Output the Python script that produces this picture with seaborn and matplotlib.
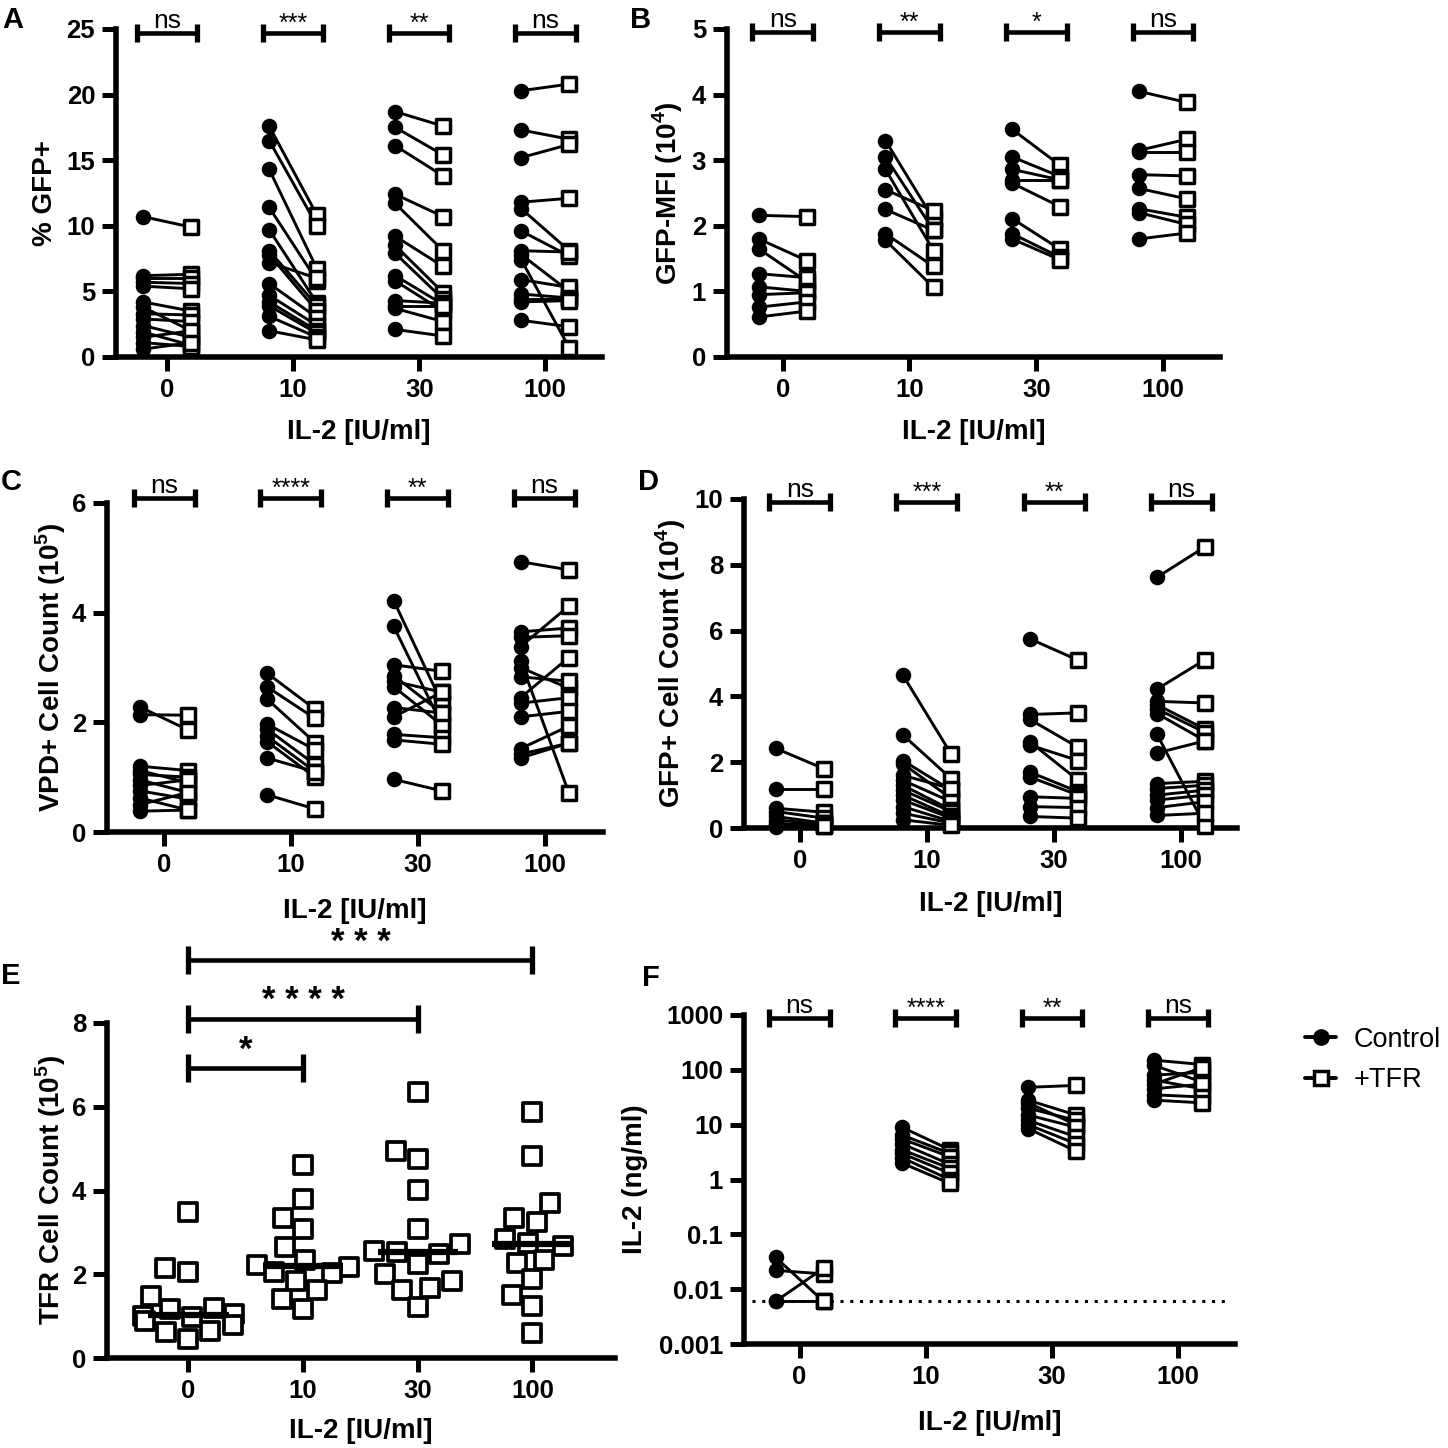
import numpy as np
import pandas as pd
import matplotlib
matplotlib.use("Agg")
import matplotlib.pyplot as plt
import matplotlib.transforms as mtransforms
from matplotlib.lines import Line2D
import seaborn as sns

# ---- data ----
doses = ["0", "10", "30", "100"]

# A: % GFP+ (paired control / +TFR per dose)
A_ctrl = [
    [10.7, 6.2, 6.0, 5.7, 5.4, 4.2, 3.8, 3.3, 2.9, 2.4, 1.9, 1.5, 1.1, 0.6],
    [17.6, 16.5, 14.3, 11.4, 9.7, 8.1, 7.8, 7.2, 5.6, 4.7, 4.2, 3.9, 3.1, 2.0],
    [18.7, 17.5, 16.1, 12.4, 11.7, 9.2, 8.5, 7.9, 6.2, 5.8, 4.3, 3.9, 3.7, 2.1],
    [20.3, 17.3, 15.2, 11.8, 11.3, 9.6, 8.1, 7.8, 7.4, 5.9, 4.8, 4.4, 4.2, 2.8],
]
A_tfr = [
    [9.9, 6.3, 6.0, 5.6, 5.2, 3.5, 2.0, 3.2, 2.7, 1.5, 0.9, 2.0, 0.8, 1.1],
    [10.8, 10.0, 6.7, 5.8, 4.1, 3.9, 3.5, 6.0, 3.0, 2.4, 2.0, 1.8, 1.5, 1.3],
    [17.6, 15.4, 13.8, 10.7, 8.1, 6.9, 4.9, 4.4, 4.0, 3.5, 4.1, 3.9, 2.7, 1.6],
    [20.8, 16.6, 16.2, 12.1, 8.1, 7.7, 8.0, 5.0, 0.7, 5.3, 4.5, 4.4, 4.3, 2.3],
]
A_sig = ["ns", "***", "**", "ns"]

# B: GFP-MFI (10^4)
B_ctrl = [
    [2.16, 1.80, 1.65, 1.27, 1.07, 0.95, 0.76, 0.61],
    [3.30, 3.05, 2.86, 2.55, 2.25, 1.88, 1.78],
    [3.47, 3.05, 2.86, 2.70, 2.65, 2.11, 1.88, 1.80],
    [4.05, 3.15, 3.13, 2.78, 2.57, 2.26, 2.20, 1.80],
]
B_tfr = [
    [2.14, 1.47, 1.15, 1.21, 1.00, 0.98, 0.84, 0.70],
    [2.10, 1.93, 1.62, 2.23, 1.93, 1.38, 1.06],
    [2.92, 2.75, 2.70, 2.70, 2.29, 1.64, 1.52, 1.48],
    [3.88, 3.32, 3.13, 2.76, 2.41, 2.13, 2.02, 1.89],
]
B_sig = ["ns", "**", "*", "ns"]

# C: VPD+ cell count (10^5)
C_ctrl = [
    [2.28, 2.14, 1.20, 1.12, 1.05, 0.95, 0.85, 0.75, 0.62, 0.50, 0.38],
    [2.90, 2.65, 2.43, 1.97, 1.88, 1.75, 1.65, 1.35, 0.68],
    [4.22, 3.75, 3.05, 2.85, 2.75, 2.65, 2.27, 2.10, 1.78, 1.68, 0.96],
    [4.93, 3.65, 3.55, 3.38, 3.12, 3.00, 2.83, 2.45, 2.35, 2.10, 1.52, 1.42, 1.35],
]
C_tfr = [
    [1.86, 2.13, 1.12, 0.90, 1.00, 0.72, 0.95, 0.60, 0.40, 0.72, 0.40],
    [2.24, 2.07, 1.63, 1.50, 1.23, 1.10, 1.00, 1.10, 0.42],
    [2.35, 1.95, 2.93, 2.17, 2.55, 1.95, 2.17, 2.55, 1.72, 1.60, 0.75],
    [4.78, 3.72, 3.58, 4.12, 0.72, 2.62, 2.75, 3.18, 2.45, 2.20, 1.93, 1.62, 1.62],
]
C_sig = ["ns", "****", "**", "ns"]

# D: GFP+ cell count (10^4)
D_ctrl = [
    [2.42, 1.20, 0.60, 0.50, 0.35, 0.25, 0.15, 0.08, 0.02],
    [4.65, 2.83, 2.05, 1.95, 1.60, 1.45, 1.30, 1.15, 1.00, 0.85, 0.65, 0.45, 0.25],
    [5.75, 3.45, 3.30, 2.62, 2.52, 1.70, 1.55, 0.95, 0.65, 0.35],
    [7.62, 4.22, 3.85, 3.75, 3.62, 3.48, 2.85, 2.28, 1.35, 1.20, 1.00, 0.85, 0.62, 0.38],
]
D_tfr = [
    [1.80, 1.20, 0.48, 0.30, 0.15, 0.10, 0.05, 0.15, 0.05],
    [2.25, 1.50, 1.15, 0.90, 1.20, 0.80, 0.55, 0.50, 0.35, 0.30, 0.20, 0.15, 0.08],
    [5.10, 3.50, 2.45, 1.45, 2.05, 1.10, 1.00, 0.90, 0.62, 0.30],
    [8.55, 5.12, 3.80, 3.00, 2.90, 2.65, 0.05, 2.65, 1.42, 1.30, 1.15, 1.00, 0.80, 0.45],
]
D_sig = ["ns", "***", "**", "ns"]

# E: TFR cell count (10^5), unpaired
E_0 = [3.48, 2.15, 2.05, 1.48, 1.20, 1.18, 1.05, 1.00, 0.98, 0.88, 0.78, 0.65, 0.62, 0.45]
E_10 = [4.62, 3.80, 3.35, 3.08, 2.65, 2.35, 2.22, 2.18, 2.05, 2.03, 1.85, 1.62, 1.42, 1.18]
E_30 = [6.35, 4.95, 4.75, 4.02, 3.07, 2.72, 2.55, 2.52, 2.48, 2.25, 2.00, 1.85, 1.68, 1.62, 1.22]
E_100 = [5.88, 4.82, 3.70, 3.35, 3.25, 2.85, 2.75, 2.68, 2.35, 2.28, 1.88, 1.50, 1.25, 0.60]
E_comparisons = [(0, 1, 6.92, "*"), (0, 2, 8.1, "* * * *"), (0, 3, 9.5, "* * *")]

# F: IL-2 (ng/ml), log scale
F_ctrl = [
    [0.038, 0.022, 0.006, 0.006],
    [9.0, 6.5, 5.5, 4.5, 3.5, 3.0, 2.5, 2.0],
    [48, 28, 25, 20, 15, 12, 10, 8.5],
    [150, 120, 80, 65, 55, 45, 35, 28],
]
F_tfr = [
    [0.006, 0.019, 0.024, 0.006],
    [3.5, 3.0, 2.6, 1.9, 1.6, 1.3, 1.0, 0.85],
    [52, 15, 10, 12, 9, 6, 4.5, 3.3],
    [125, 60, 90, 45, 110, 55, 32, 25],
]
F_sig = ["ns", "****", "**", "ns"]
F_detection_limit = 0.006

# ---- style ----
sns.set_theme(style="ticks")
plt.rcParams['font.family'] = ['Liberation Sans', 'DejaVu Sans']
plt.rcParams['font.weight'] = 'bold'
plt.rcParams['axes.labelweight'] = 'bold'
plt.rcParams['mathtext.fontset'] = 'custom'
plt.rcParams['mathtext.rm'] = 'Liberation Sans:bold'
plt.rcParams['mathtext.bf'] = 'Liberation Sans:bold'
plt.rcParams['axes.linewidth'] = 4.0
plt.rcParams['axes.edgecolor'] = 'black'
plt.rcParams['text.color'] = 'black'
plt.rcParams['axes.labelcolor'] = 'black'
plt.rcParams['xtick.color'] = 'black'
plt.rcParams['ytick.color'] = 'black'

W = 1448
fig = plt.figure(figsize=(14.48, 14.48), dpi=100)


def make_axes(left, right, bottom, top):
    return fig.add_axes([left / W, 1 - bottom / W, (right - left) / W, (bottom - top) / W])


def style_axes(ax, xlim, ylabel, ylab_x, xlab_y):
    ax.set_xlim(*xlim)
    ax.set_xticks(range(len(doses)))
    ax.set_xticklabels(doses)
    sns.despine(ax=ax)
    ax.tick_params(axis='both', direction='out', length=10, width=3.6,
                   labelsize=18.5, pad=5, colors='black')
    ax.tick_params(axis='y', which='minor', length=0)
    ax.set_xlabel("IL-2 [IU/ml]", fontsize=20)
    ax.set_ylabel(ylabel, fontsize=20)
    ax.yaxis.set_label_coords(ylab_x, 0.5)
    ax.xaxis.set_label_coords(0.5, xlab_y)
    ax.grid(False)


def bracket(ax, x1, x2, y, label, half=9, fs=19, text_dy=None, va='baseline', weight='normal'):
    trans = mtransforms.blended_transform_factory(ax.transData, ax.transAxes)
    yf = ax.transAxes.inverted().transform(ax.transData.transform((0, y)))[1]
    h = half / ax.bbox.height
    ax.plot([x1, x2], [yf, yf], transform=trans, color='black', lw=3.3,
            clip_on=False, solid_capstyle='butt')
    for xx in (x1, x2):
        ax.plot([xx, xx], [yf - h, yf + h], transform=trans, color='black',
                lw=3.8, clip_on=False, solid_capstyle='butt')
    ax.annotate(label, xy=((x1 + x2) / 2, yf), xycoords=trans,
                xytext=(0, text_dy), textcoords='offset points', ha='center',
                va=va, fontsize=fs, fontweight=weight, annotation_clip=False)


def paired_panel(ax, ctrl, tfr, off=0.19):
    rows = []
    pair = 0
    for i, (c_vals, t_vals) in enumerate(zip(ctrl, tfr)):
        for c, t in zip(c_vals, t_vals):
            rows.append((pair, i - off, c, 'Control'))
            rows.append((pair, i + off, t, '+TFR'))
            pair += 1
    df = pd.DataFrame(rows, columns=['pair', 'pos', 'value', 'group'])
    sns.lineplot(data=df, x='pos', y='value', units='pair', estimator=None,
                 color='black', lw=2.1, sort=False, ax=ax)
    sns.scatterplot(data=df[df['group'] == 'Control'], x='pos', y='value',
                    marker='o', s=125, color='black', edgecolor='black',
                    linewidth=0, zorder=3, clip_on=False, ax=ax)
    sns.scatterplot(data=df[df['group'] == '+TFR'], x='pos', y='value',
                    marker='s', s=100, color='white', edgecolor='black',
                    linewidth=2.5, zorder=4, clip_on=False, ax=ax)


def add_sig(ax, sig, sig_y, span=0.24):
    for i, s in enumerate(sig):
        if s == 'ns':
            bracket(ax, i - span, i + span, sig_y, s, text_dy=3.5, va='baseline')
        else:
            bracket(ax, i - span, i + span, sig_y, s, text_dy=6.5, va='center', fs=18)


# ---- panel A ----
axA = make_axes(116, 602, 357, 29)
paired_panel(axA, A_ctrl, A_tfr)
axA.set_ylim(0, 25)
axA.set_yticks([0, 5, 10, 15, 20, 25])
style_axes(axA, (-0.405, 3.45), "% GFP+", -0.119, -0.19)
add_sig(axA, A_sig, 24.7)

# ---- panel B ----
axB = make_axes(727, 1220, 357, 29)
paired_panel(axB, B_ctrl, B_tfr)
axB.set_ylim(0, 5)
axB.set_yticks([0, 1, 2, 3, 4, 5])
style_axes(axB, (-0.44, 3.45), r"GFP-MFI (10$^{\mathbf{4}}$)", -0.085, -0.19)
add_sig(axB, B_sig, 4.95)

# ---- panel C ----
axC = make_axes(107, 603, 832, 503)
paired_panel(axC, C_ctrl, C_tfr)
axC.set_ylim(0, 6)
axC.set_yticks([0, 2, 4, 6])
style_axes(axC, (-0.45, 3.46), r"VPD+ Cell Count (10$^{\mathbf{5}}$)", -0.079, -0.20)
add_sig(axC, C_sig, 6.1)

# ---- panel D ----
axD = make_axes(744, 1237, 828, 499)
paired_panel(axD, D_ctrl, D_tfr)
axD.set_ylim(0, 10)
axD.set_yticks([0, 2, 4, 6, 8, 10])
style_axes(axD, (-0.44, 3.44), r"GFP+ Cell Count (10$^{\mathbf{4}}$)", -0.114, -0.19)
add_sig(axD, D_sig, 9.9)

# ---- panel E ----
axE = make_axes(107, 615, 1358, 1023)
dfE = pd.DataFrame({
    'dose': ["0"] * len(E_0) + ["10"] * len(E_10) + ["30"] * len(E_30) + ["100"] * len(E_100),
    'count': E_0 + E_10 + E_30 + E_100,
})
sns.swarmplot(data=dfE, x='dose', y='count', order=doses, marker='s', size=13.5,
              color='white', edgecolor='black', linewidth=2.7, ax=axE,
              zorder=3, clip_on=False, warn_thresh=1)
sns.boxplot(data=dfE, x='dose', y='count', order=doses, width=0.7,
            showbox=False, showcaps=False, showfliers=False,
            whiskerprops={'visible': False},
            medianprops={'color': 'black', 'linewidth': 4.5, 'zorder': 5},
            ax=axE)
axE.set_ylim(0, 8)
axE.set_yticks([0, 2, 4, 6, 8])
style_axes(axE, (-0.71, 3.72), r"TFR Cell Count (10$^{\mathbf{5}}$)", -0.077, -0.18)
for i1, i2, yb, lab in E_comparisons:
    bracket(axE, i1, i2, yb, lab, half=14, fs=25, text_dy=13, va='center', weight='bold')

# ---- panel F ----
axF = make_axes(744, 1235, 1344, 1015)
axF.set_yscale('log')
paired_panel(axF, F_ctrl, F_tfr)
axF.set_ylim(0.001, 1000)
f_ticks = [0.001, 0.01, 0.1, 1, 10, 100, 1000]
axF.set_yticks(f_ticks)
axF.set_yticklabels(["0.001", "0.01", "0.1", "1", "10", "100", "1000"])
axF.yaxis.set_minor_locator(matplotlib.ticker.NullLocator())
style_axes(axF, (-0.44, 3.45), "IL-2 (ng/ml)", -0.196, -0.20)
axF.hlines(F_detection_limit, -0.38, 3.39, colors='black', linestyles=(0, (1, 2.2)), lw=2.2)
add_sig(axF, F_sig, 900)

# ---- legend ----
handles = [
    Line2D([], [], color='black', lw=2.8, marker='o', markersize=11),
    Line2D([], [], color='black', lw=2.8, marker='s', markersize=10,
           markerfacecolor='white', markeredgecolor='black', markeredgewidth=2.5),
]
fig.legend(handles, ["Control", "+TFR"], loc='center left',
           bbox_to_anchor=(1305 / W, 1 - 1060 / W), frameon=False,
           prop={'size': 19.5, 'weight': 'normal'}, handlelength=1.15,
           handletextpad=0.65, labelspacing=0.55, borderpad=0, borderaxespad=0)

# ---- panel letters ----
for letter, (px, py) in {"A": (2, 6), "B": (630, 6), "C": (1, 468), "D": (638, 468),
                         "E": (1, 962), "F": (642, 964)}.items():
    fig.text(px / W, 1 - py / W, letter, fontsize=21, fontweight='bold',
             ha='left', va='top')

fig.savefig("out.png", dpi=100)
